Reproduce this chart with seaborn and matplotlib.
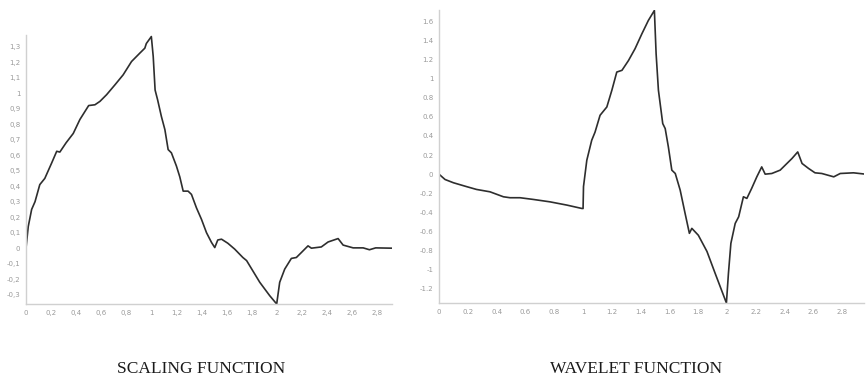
import matplotlib
matplotlib.use("Agg")
import matplotlib.pyplot as plt
import seaborn as sns
import pandas as pd

# Scaling function (phi) samples
phi_x = [0.0, 0.018, 0.045, 0.072, 0.11, 0.15, 0.205, 0.245, 0.27, 0.32, 0.377, 0.43,
         0.50, 0.55, 0.59, 0.643, 0.71, 0.775, 0.842, 0.908, 0.948, 0.96, 1.0,
         1.015, 1.03, 1.05, 1.08, 1.108, 1.134, 1.16, 1.20, 1.227, 1.254, 1.293,
         1.32, 1.36, 1.40, 1.44, 1.48, 1.506, 1.53, 1.56, 1.61, 1.665, 1.73, 1.76,
         1.865, 1.944, 2.0, 2.024, 2.064, 2.117, 2.157, 2.197, 2.25, 2.277, 2.356,
         2.41, 2.49, 2.53, 2.61, 2.69, 2.74, 2.79, 2.92]
phi_y = [0.0, 0.14, 0.25, 0.30, 0.41, 0.45, 0.55, 0.625, 0.62, 0.68, 0.74, 0.83,
         0.92, 0.925, 0.947, 0.99, 1.054, 1.118, 1.204, 1.258, 1.29, 1.32, 1.365,
         1.236, 1.02, 0.957, 0.85, 0.765, 0.636, 0.615, 0.53, 0.46, 0.368, 0.368,
         0.347, 0.26, 0.186, 0.10, 0.037, 0.004, 0.053, 0.058, 0.032, -0.006, -0.06, -0.08,
         -0.22, -0.306, -0.36, -0.22, -0.135, -0.066, -0.06, -0.028, 0.015, 0.0, 0.008,
         0.04, 0.062, 0.02, 0.002, 0.002, -0.01, 0.002, 0.0]

# Wavelet function (psi) samples
psi_x = [0.0, 0.042, 0.1, 0.19, 0.26, 0.354, 0.447, 0.493, 0.5625, 0.655, 0.77, 0.887,
         0.99, 1.0, 1.003, 1.026, 1.06, 1.083, 1.118, 1.165, 1.2, 1.234, 1.27, 1.315,
         1.361, 1.408, 1.453, 1.495, 1.507, 1.523, 1.553, 1.57, 1.592, 1.616, 1.64,
         1.674, 1.708, 1.738, 1.755, 1.80, 1.86, 1.917, 1.995, 2.009, 2.026, 2.056,
         2.08, 2.113, 2.137, 2.17, 2.206, 2.24, 2.264, 2.31, 2.368, 2.415, 2.45, 2.49,
         2.52, 2.565, 2.61, 2.657, 2.74, 2.785, 2.877, 2.96]
psi_y = [0.0, -0.056, -0.09, -0.13, -0.16, -0.185, -0.237, -0.247, -0.247, -0.265, -0.29,
         -0.324, -0.359, -0.36, -0.13, 0.146, 0.355, 0.44, 0.617, 0.704, 0.88, 1.07,
         1.088, 1.19, 1.315, 1.47, 1.61, 1.715, 1.262, 0.88, 0.53, 0.478, 0.286, 0.042,
         0.007, -0.167, -0.41, -0.62, -0.568, -0.64, -0.81, -1.04, -1.35, -1.04, -0.725,
         -0.516, -0.447, -0.237, -0.254, -0.15, -0.028, 0.076, 0.0, 0.007, 0.042, 0.112,
         0.164, 0.233, 0.112, 0.06, 0.014, 0.007, -0.028, 0.007, 0.014, 0.0]

phi_yticks = [-0.3, -0.2, -0.1, 0, 0.1, 0.2, 0.3, 0.4, 0.5, 0.6, 0.7, 0.8, 0.9, 1, 1.1, 1.2, 1.3]
psi_yticks = [-1.2, -1, -0.8, -0.6, -0.4, -0.2, 0, 0.2, 0.4, 0.6, 0.8, 1, 1.2, 1.4, 1.6]
xticks = [0, 0.2, 0.4, 0.6, 0.8, 1, 1.2, 1.4, 1.6, 1.8, 2, 2.2, 2.4, 2.6, 2.8]

sns.set_style("white")
plt.rcParams["font.family"] = ["DejaVu Sans"]

W, H = 866, 388
fig = plt.figure(figsize=(W / 100, H / 100), dpi=100)


def frac(l, t, r, b):
    return [l / W, 1 - b / H, (r - l) / W, (b - t) / H]


ax1 = fig.add_axes(frac(26, 35, 392, 304))
ax2 = fig.add_axes(frac(439, 10, 864, 303))

sns.lineplot(data=pd.DataFrame({"x": phi_x, "y": phi_y}), x="x", y="y", ax=ax1,
             sort=False, estimator=None, color="#2e2e2e", linewidth=1.2)
sns.lineplot(data=pd.DataFrame({"x": psi_x, "y": psi_y}), x="x", y="y", ax=ax2,
             sort=False, estimator=None, color="#2e2e2e", linewidth=1.2)


def fmt(v, sep):
    s = f"{v:g}"
    return s.replace(".", sep)


for ax, yt, sep, xlim, ylim in [
    (ax1, phi_yticks, ",", (0, 2.92), (-0.36, 1.375)),
    (ax2, psi_yticks, ".", (0, 2.95), (-1.35, 1.72)),
]:
    ax.set_xlim(*xlim)
    ax.set_ylim(*ylim)
    ax.set_xticks(xticks)
    ax.set_xticklabels([fmt(v, sep) for v in xticks])
    ax.set_yticks(yt)
    ax.set_yticklabels([fmt(v, sep) for v in yt])
    ax.set_xlabel("")
    ax.set_ylabel("")
    for s in ["top", "right"]:
        ax.spines[s].set_visible(False)
    for s in ["left", "bottom"]:
        ax.spines[s].set_color("#d0d0d0")
        ax.spines[s].set_linewidth(1.0)
    ax.tick_params(axis="both", labelsize=5, labelcolor="#9a9a9a",
                   color="#d0d0d0", length=2, width=0.6, pad=2)
    ax.patch.set_alpha(0)

fig.text(201 / W, 1 - 369 / H, "SCALING FUNCTION", ha="center", va="center",
         family="Liberation Serif", fontsize=12.5, color="#1a1a1a")
fig.text(636 / W, 1 - 369 / H, "WAVELET FUNCTION", ha="center", va="center",
         family="Liberation Serif", fontsize=12.5, color="#1a1a1a")

fig.savefig("out.png", dpi=100, facecolor="white")
